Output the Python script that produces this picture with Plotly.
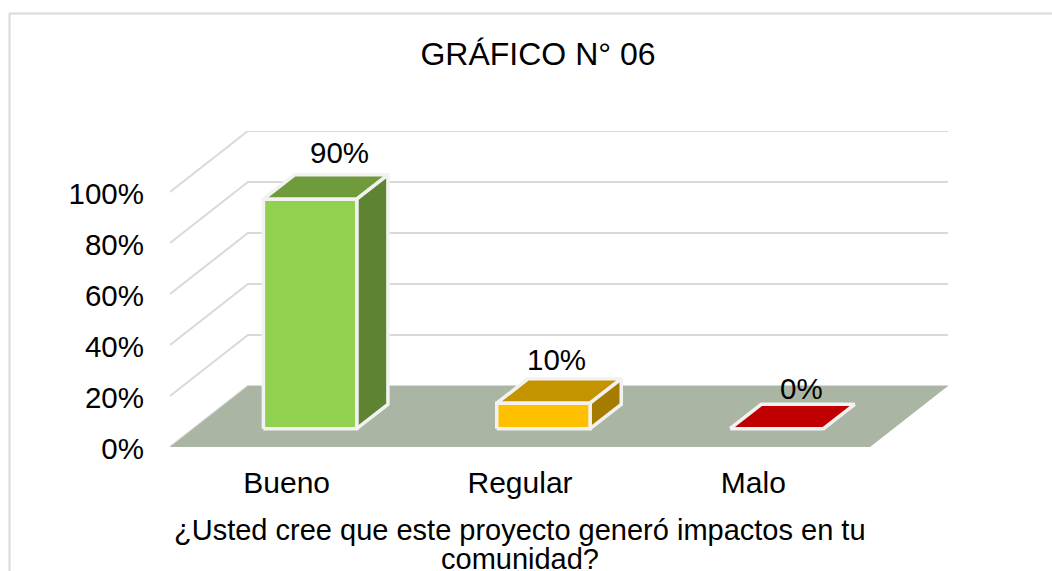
# plot.py
import plotly.graph_objects as go

categories = ["Bueno", "Regular", "Malo"]
values = [90, 10, 0]
value_labels = ["90%", "10%", "0%"]
y_ticks = [0, 20, 40, 60, 80, 100]
y_tick_labels = ["0%", "20%", "40%", "60%", "80%", "100%"]
front_colors = ["#92D050", "#FFC000", "#C00000"]
top_colors = ["#6F9B3D", "#C49400", "#930000"]
side_colors = ["#5E8432", "#A67C00", "#7E0000"]
caption_lines = ["¿Usted cree que este proyecto generó impactos en tu", "comunidad?"]

FONT = "Liberation Sans"
# oblique depth of the box, in data units
DEPTH_X = 0.334
DEPTH_Y = 23.9
BAR_W = 0.4
BAR_D0 = 0.30
BAR_D1 = 0.70
STROKE = "#F2F2F2"
W, H = 1052, 571
ML, MR, MT, MB = 170, 104, 131, 124
PLOT_W = W - ML - MR
PLOT_H = H - MT - MB


def poly(xs, ys, fill, line_color=None, width=0):
    return go.Scatter(
        x=xs + xs[:1], y=ys + ys[:1], mode="lines", fill="toself", fillcolor=fill,
        line=dict(color=line_color or fill, width=width), hoverinfo="skip", showlegend=False,
    )


def paper_x(px):
    return (px - ML) / PLOT_W


def paper_y(py):
    return (H - MB - py) / PLOT_H


fig = go.Figure()

# gridlines on side and back wall
for v in y_ticks:
    fig.add_trace(go.Scatter(
        x=[-0.5, -0.5 + DEPTH_X, 2.5 + DEPTH_X], y=[v, v + DEPTH_Y, v + DEPTH_Y],
        mode="lines", line=dict(color="#D9D9D9", width=2), hoverinfo="skip", showlegend=False,
    ))

# floor
fig.add_trace(poly(
    [-0.5, 2.5, 2.5 + DEPTH_X, -0.5 + DEPTH_X], [0, 0, DEPTH_Y, DEPTH_Y], "#ABB5A3",
))

# bars: top, side, front
for i, v in enumerate(values):
    x0 = i - BAR_W / 2 + BAR_D0 * DEPTH_X
    x1 = i + BAR_W / 2 + BAR_D0 * DEPTH_X
    y0 = BAR_D0 * DEPTH_Y
    sx = (BAR_D1 - BAR_D0) * DEPTH_X
    sy = (BAR_D1 - BAR_D0) * DEPTH_Y
    fig.add_trace(poly([x0, x1, x1 + sx, x0 + sx], [y0 + v, y0 + v, y0 + v + sy, y0 + v + sy],
                       top_colors[i] if v > 0 else front_colors[i], STROKE, 3.5))
    if v > 0:
        fig.add_trace(poly([x1, x1 + sx, x1 + sx, x1], [y0, y0 + sy, y0 + sy + v, y0 + v],
                           side_colors[i], STROKE, 3.5))
        fig.add_trace(poly([x0, x1, x1, x0], [y0, y0, y0 + v, y0 + v],
                           front_colors[i], STROKE, 3.5))

# value labels, moved by hand in the original
label_shift = [(14, 34), (-3, 32), (9, 28)]
for i, v in enumerate(values):
    mid = (BAR_D0 + BAR_D1) / 2
    fig.add_annotation(
        x=i + mid * DEPTH_X, y=mid * DEPTH_Y + v, text=value_labels[i], showarrow=False,
        xshift=label_shift[i][0], yshift=label_shift[i][1],
        font=dict(family=FONT, size=29.5, color="#000000"),
    )

# axis caption is centred on the middle category, not on the plot area
for line, py in zip(caption_lines, [530, 559]):
    fig.add_annotation(
        x=1, y=paper_y(py), xref="x", yref="paper", yanchor="middle", showarrow=False,
        text=line, font=dict(family=FONT, size=29, color="#000000"),
    )

fig.update_layout(
    width=W, height=H,
    margin=dict(l=ML, r=MR, t=MT, b=MB),
    paper_bgcolor="white", plot_bgcolor="white",
    showlegend=False,
    title=dict(
        text="GRÁFICO N° 06", x=538 / W, y=1 - 54 / H, xref="container", yref="container",
        xanchor="center", yanchor="middle", font=dict(family=FONT, size=32, color="#000000"),
    ),
    xaxis=dict(
        range=[-0.5, 2.5 + DEPTH_X], tickmode="array", tickvals=[0, 1, 2], ticktext=categories,
        showgrid=False, zeroline=False, showline=False, ticks="", ticklabelstandoff=15,
        tickfont=dict(family=FONT, size=30, color="#000000"),
    ),
    yaxis=dict(
        range=[0, 100 + DEPTH_Y], tickmode="array", tickvals=y_ticks, ticktext=y_tick_labels,
        showgrid=False, zeroline=False, showline=False, ticks="", ticklabelstandoff=25,
        ticklabelshift=2,
        tickfont=dict(family=FONT, size=29.5, color="#000000"),
    ),
)

# outer frame of the pasted chart, bottom is cut off by the page
fig.add_shape(
    type="path", xref="paper", yref="paper",
    path=f"M {paper_x(9.5)},{paper_y(H + 5)} L {paper_x(9.5)},{paper_y(13.5)} L {paper_x(W + 5)},{paper_y(13.5)}",
    line=dict(color="#D9D9D9", width=2),
)

# page margin off so the figure sits at the window corner
fig.write_html("out.html", config=dict(displayModeBar=False), post_script="document.body.style.margin='0';")
